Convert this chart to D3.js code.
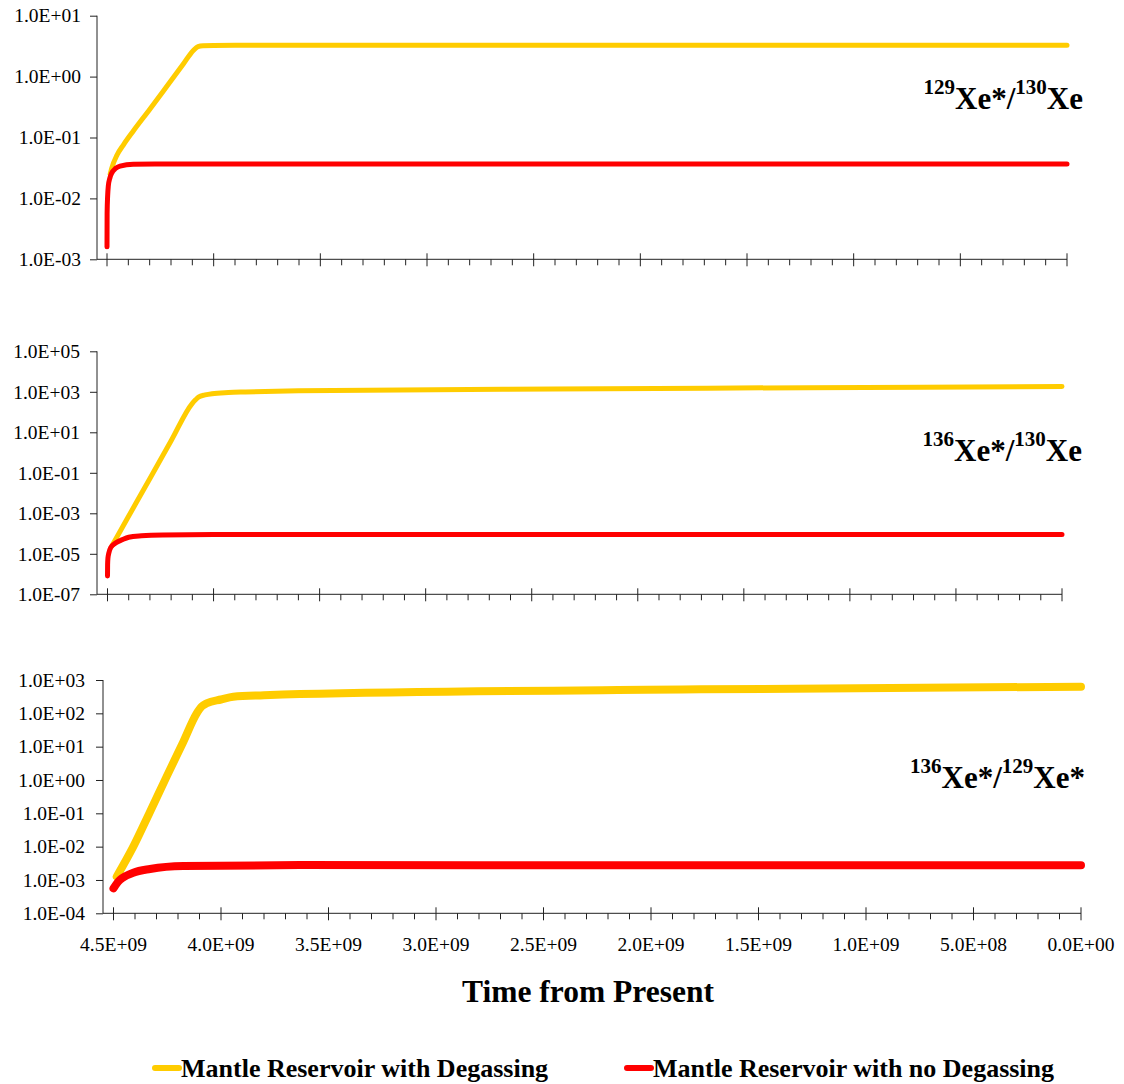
<!DOCTYPE html>
<html>
<head>
<meta charset="utf-8">
<script src="https://cdn.jsdelivr.net/npm/d3@7"></script>
<style>
  body { margin: 0; background: #fff; }
  svg { display: block; }
  text { font-family: "Liberation Serif", "Times New Roman", Times, serif; fill: #000; }
</style>
</head>
<body>
<svg id="chart" width="1124" height="1084"></svg>
<script>
// ---- Series identity ----
const seriesNames = ["Mantle Reservoir with Degassing", "Mantle Reservoir with no Degassing"];
const seriesColors = ["#FFCC00", "#FF0000"];

// ---- Shared time axis (years before present) ----
const xTickValues = [4.5e9, 4.0e9, 3.5e9, 3.0e9, 2.5e9, 2.0e9, 1.5e9, 1.0e9, 5.0e8, 0];
const xTickLabels = ["4.5E+09", "4.0E+09", "3.5E+09", "3.0E+09", "2.5E+09", "2.0E+09", "1.5E+09", "1.0E+09", "5.0E+08", "0.0E+00"];
const xMinorStep = 1e8;
const xTitle = "Time from Present";

// ---- Panel 1: 129Xe*/130Xe ----
const xe129DegasT = [4.485e9, 4.478e9, 4.453e9, 4.4236e9, 4.3767e9, 4.2984e9, 4.2202e9, 4.1423e9, 4.0955e9, 4.0734e9, 4.05e9, 4.0e9, 3.9e9, 3.0e9, 2.0e9, 1.0e9, 0];
const xe129DegasV = [0.025, 0.0312, 0.0516, 0.0753, 0.128, 0.294, 0.687, 1.61, 2.69, 3.12, 3.22, 3.25, 3.26, 3.26, 3.26, 3.26, 3.26];
const xe129NoDegasT = [4.5e9, 4.4995e9, 4.497e9, 4.494e9, 4.486e9, 4.478e9, 4.46e9, 4.439e9, 4.377e9, 4.2e9, 3.0e9, 1.5e9, 0];
const xe129NoDegasV = [0.0016, 0.0057, 0.011, 0.0158, 0.022, 0.026, 0.031, 0.034, 0.0365, 0.0367, 0.0367, 0.0367, 0.0367];
const xe129Ticks = [1e1, 1e0, 1e-1, 1e-2, 1e-3];
const xe129TickLabels = ["1.0E+01", "1.0E+00", "1.0E-01", "1.0E-02", "1.0E-03"];

// ---- Panel 2: 136Xe*/130Xe ----
const xe136DegasT = [4.478e9, 4.40e9, 4.30e9, 4.20e9, 4.101e9, 4.085e9, 4.071e9, 4.04e9, 4.007e9, 3.93e9, 3.85e9, 3.6e9, 2.4e9, 1.2e9, 0];
const xe136DegasV = [2.6e-5, 7.3e-4, 0.0525, 3.8, 263, 400, 550, 700, 810, 920, 980, 1120, 1380, 1600, 1820];
const xe136NoDegasT = [4.5e9, 4.4995e9, 4.498e9, 4.494e9, 4.485e9, 4.462e9, 4.43e9, 4.40e9, 4.34e9, 4.24e9, 4.0e9, 3.0e9, 2.0e9, 1.0e9, 0];
const xe136NoDegasV = [8e-7, 3e-6, 6e-6, 1.05e-5, 2.0e-5, 3.4e-5, 5.0e-5, 6.6e-5, 7.8e-5, 8.6e-5, 8.9e-5, 9.0e-5, 9.0e-5, 9.0e-5, 9.0e-5];
const xe136Ticks = [1e5, 1e3, 1e1, 1e-1, 1e-3, 1e-5, 1e-7];
const xe136TickLabels = ["1.0E+05", "1.0E+03", "1.0E+01", "1.0E-01", "1.0E-03", "1.0E-05", "1.0E-07"];

// ---- Panel 3: 136Xe*/129Xe* ----
const ratioDegasT = [4.485e9, 4.408e9, 4.330e9, 4.253e9, 4.175e9, 4.113e9, 4.09e9, 4.066e9, 4.0e9, 3.943e9, 3.8e9, 3.633e9, 1.77e9, 0];
const ratioDegasV = [1.26e-3, 0.01, 0.112, 1.26, 14.1, 100, 160, 200, 260, 316, 350, 380, 525, 630];
const ratioNoDegasT = [4.5e9, 4.485e9, 4.47e9, 4.44e9, 4.408e9, 4.33e9, 4.175e9, 3.633e9, 2.0e9, 0];
const ratioNoDegasV = [5.6e-4, 7.8e-4, 1.0e-3, 1.35e-3, 1.66e-3, 2.14e-3, 2.63e-3, 2.8e-3, 2.75e-3, 2.75e-3];
const ratioTicks = [1e3, 1e2, 1e1, 1e0, 1e-1, 1e-2, 1e-3, 1e-4];
const ratioTickLabels = ["1.0E+03", "1.0E+02", "1.0E+01", "1.0E+00", "1.0E-01", "1.0E-02", "1.0E-03", "1.0E-04"];

const zip = (ts, vs) => ts.map((t, i) => ({ t, v: vs[i] }));

// Panel layout: pixel frame of each log plot
const panels = [
  {
    axisX: 97, left: 107, right: 1067, top: 15.7, bottom: 259.3, width: 5,
    ticks: xe129Ticks, tickLabels: xe129TickLabels, labelGap: 16, showXLabels: false,
    title: [["129", true], ["Xe*/", false], ["130", true], ["Xe", false]], titleX: 1083, titleY: 109,
    series: [zip(xe129DegasT, xe129DegasV), zip(xe129NoDegasT, xe129NoDegasV)]
  },
  {
    axisX: 97, left: 107.5, right: 1062, top: 351.3, bottom: 594.3, width: 5,
    ticks: xe136Ticks, tickLabels: xe136TickLabels, labelGap: 17, showXLabels: false,
    title: [["136", true], ["Xe*/", false], ["130", true], ["Xe", false]], titleX: 1082, titleY: 461,
    series: [zip(xe136DegasT, xe136DegasV), zip(xe136NoDegasT, xe136NoDegasV)]
  },
  {
    axisX: 103, left: 113.5, right: 1081, top: 680, bottom: 913.3, width: 8,
    ticks: ratioTicks, tickLabels: ratioTickLabels, labelGap: 18, showXLabels: true,
    title: [["136", true], ["Xe*/", false], ["129", true], ["Xe*", false]], titleX: 1085, titleY: 788,
    series: [zip(ratioDegasT, ratioDegasV), zip(ratioNoDegasT, ratioNoDegasV)]
  }
];

const svg = d3.select("#chart");
const axisColor = "#222";
const tickFont = 19.5;

panels.forEach(p => {
  const x = d3.scaleLinear().domain([4.5e9, 0]).range([p.left, p.right]);
  const y = d3.scaleLog()
    .domain([d3.min(p.ticks), d3.max(p.ticks)])
    .range([p.bottom, p.top]);

  const g = svg.append("g");

  // Series lines (degassing drawn first, non-degassing on top)
  const line = d3.line()
    .x(d => x(d.t))
    .y(d => y(d.v))
    .curve(d3.curveMonotoneX);
  p.series.forEach((data, i) => {
    g.append("path")
      .datum(data)
      .attr("d", line)
      .attr("fill", "none")
      .attr("stroke", seriesColors[i])
      .attr("stroke-width", p.width)
      .attr("stroke-linecap", "round")
      .attr("stroke-linejoin", "round");
  });

  // Y axis
  const yAxis = d3.axisLeft(y)
    .tickValues(p.ticks)
    .tickFormat((d, i) => p.tickLabels[i])
    .tickSize(7)
    .tickPadding(p.labelGap - 7);
  const ya = g.append("g")
    .attr("transform", `translate(${p.axisX},0)`)
    .call(yAxis);
  ya.select(".domain").attr("d", `M0,${p.top}V${p.bottom}`).attr("stroke", axisColor);
  ya.selectAll(".tick line").attr("stroke", axisColor);
  ya.selectAll(".tick text")
    .attr("font-size", tickFont)
    .attr("fill", "#000");

  // X axis: baseline from the y axis to the last major tick
  const xg = g.append("g");
  xg.append("line")
    .attr("x1", p.axisX).attr("x2", p.right)
    .attr("y1", p.bottom).attr("y2", p.bottom)
    .attr("stroke", axisColor);

  const minor = d3.range(0, 4.5e9 + 1, xMinorStep).filter(v => Math.round(v / xMinorStep) % 5 !== 0);
  xg.selectAll("line.minor")
    .data(minor)
    .join("line")
    .attr("class", "minor")
    .attr("x1", d => x(d)).attr("x2", d => x(d))
    .attr("y1", p.bottom).attr("y2", p.bottom + 6)
    .attr("stroke", axisColor);
  xg.selectAll("line.major")
    .data(xTickValues)
    .join("line")
    .attr("class", "major")
    .attr("x1", d => x(d)).attr("x2", d => x(d))
    .attr("y1", p.bottom - 6).attr("y2", p.bottom + 7)
    .attr("stroke", axisColor);

  if (p.showXLabels) {
    xg.selectAll("text.xl")
      .data(xTickValues)
      .join("text")
      .attr("class", "xl")
      .attr("x", d => x(d))
      .attr("y", p.bottom + 38)
      .attr("text-anchor", "middle")
      .attr("font-size", tickFont)
      .text((d, i) => xTickLabels[i]);
  }

  // Ratio title with isotope superscripts
  const t = g.append("text")
    .attr("x", p.titleX)
    .attr("y", p.titleY)
    .attr("text-anchor", "end")
    .attr("font-weight", "bold")
    .attr("font-size", 31);
  p.title.forEach(([s, sup]) => {
    t.append("tspan")
      .attr("font-size", sup ? 21 : 31)
      .attr("baseline-shift", sup ? "15" : null)
      .text(s);
  });
});

// Shared x axis title
svg.append("text")
  .attr("x", 588)
  .attr("y", 1002)
  .attr("text-anchor", "middle")
  .attr("font-weight", "bold")
  .attr("font-size", 31.5)
  .text(xTitle);

// Legend
const legendX = [153, 625];
seriesNames.forEach((name, i) => {
  const lg = svg.append("g").attr("transform", `translate(${legendX[i]},1068)`);
  lg.append("line")
    .attr("x1", 2).attr("x2", 26)
    .attr("y1", 0).attr("y2", 0)
    .attr("stroke", seriesColors[i])
    .attr("stroke-width", 6)
    .attr("stroke-linecap", "round");
  lg.append("text")
    .attr("x", 28)
    .attr("y", 9)
    .attr("font-weight", "bold")
    .attr("font-size", 26)
    .text(name);
});
</script>
</body>
</html>
